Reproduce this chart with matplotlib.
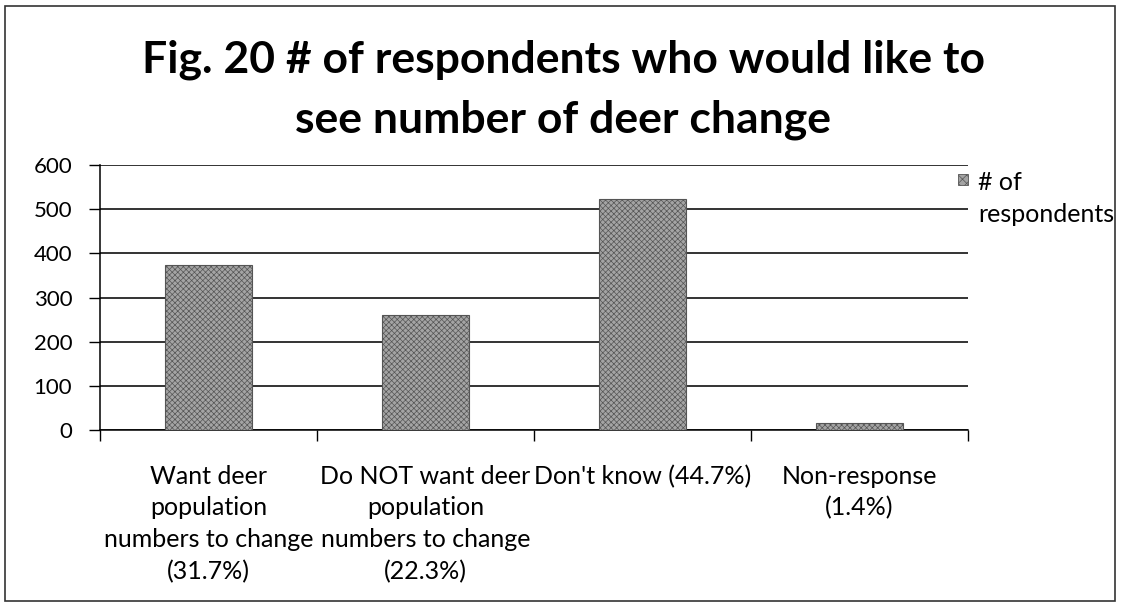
import matplotlib
matplotlib.use("Agg")
import matplotlib.pyplot as plt
from matplotlib.patches import Rectangle

# Survey responses: would respondents like to see the number of deer change?
categories = [
    "Want deer\npopulation\nnumbers to change\n(31.7%)",
    "Do NOT want deer\npopulation\nnumbers to change\n(22.3%)",
    "Don't know (44.7%)",
    "Non-response\n(1.4%)",
]
respondents = [373, 261, 523, 15]
y_ticks = [0, 100, 200, 300, 400, 500, 600]
title_lines = ["Fig. 20 # of respondents who would like to", "see number of deer change"]
series_name = "# of\nrespondents"

W, H = 1121, 607
plt.rcParams["font.family"] = ["Lato", "DejaVu Sans"]
plt.rcParams["hatch.linewidth"] = 0.5
plt.rcParams["hatch.color"] = "#808080"

BAR_FACE = "#a4a4a4"
BAR_EDGE = "#555555"

fig = plt.figure(figsize=(W / 100, H / 100), dpi=100)
fig.patch.set_facecolor("white")


def fx(px):
    return px / W


def fy(py):
    return 1 - py / H


# outer frame around the chart
fig.patches.append(Rectangle((fx(5), fy(601)), fx(1115) - fx(5), fy(6) - fy(601),
                             transform=fig.transFigure, fill=False,
                             edgecolor="#333333", linewidth=1.2))

ax = fig.add_axes([fx(100), fy(430), fx(968) - fx(100), fy(165) - fy(430)])
x = list(range(len(categories)))
ax.bar(x, respondents, width=0.4, color=BAR_FACE, edgecolor=BAR_EDGE,
       linewidth=0.8, hatch="xxxxxx", zorder=3)

ax.set_xlim(-0.5, len(categories) - 0.5)
ax.set_ylim(0, 600)
ax.set_yticks(y_ticks)
ax.set_yticklabels([str(v) for v in y_ticks], fontsize=16)
ax.tick_params(axis="y", length=8, width=1, pad=12, color="black")
ax.yaxis.grid(True, color="#111111", linewidth=1.2, zorder=0)
ax.set_axisbelow(True)

ax.set_xticks(x)
ax.set_xticklabels(categories, fontsize=18, linespacing=1.45)
ax.tick_params(axis="x", which="major", length=0, pad=25)
ax.set_xticks([i - 0.5 for i in range(len(categories) + 1)], minor=True)
ax.tick_params(axis="x", which="minor", length=8, width=1, color="black")

for side in ("top", "right"):
    ax.spines[side].set_visible(False)
ax.spines["left"].set_linewidth(1.1)
ax.spines["bottom"].set_linewidth(1.1)

# title
fig.text(fx(563), fy(72), title_lines[0], ha="center", va="baseline",
         fontsize=32, fontweight="bold")
fig.text(fx(563), fy(132), title_lines[1], ha="center", va="baseline",
         fontsize=32, fontweight="bold")

# series key
fig.patches.append(Rectangle((fx(958), fy(185)), fx(10), 11 / H,
                             transform=fig.transFigure, facecolor=BAR_FACE,
                             edgecolor=BAR_EDGE, linewidth=0.6, hatch="xxxx"))
fig.text(fx(978), fy(192), series_name, ha="left", va="center_baseline",
         fontsize=18, linespacing=1.5)

fig.savefig("out.png", dpi=100, facecolor="white")
